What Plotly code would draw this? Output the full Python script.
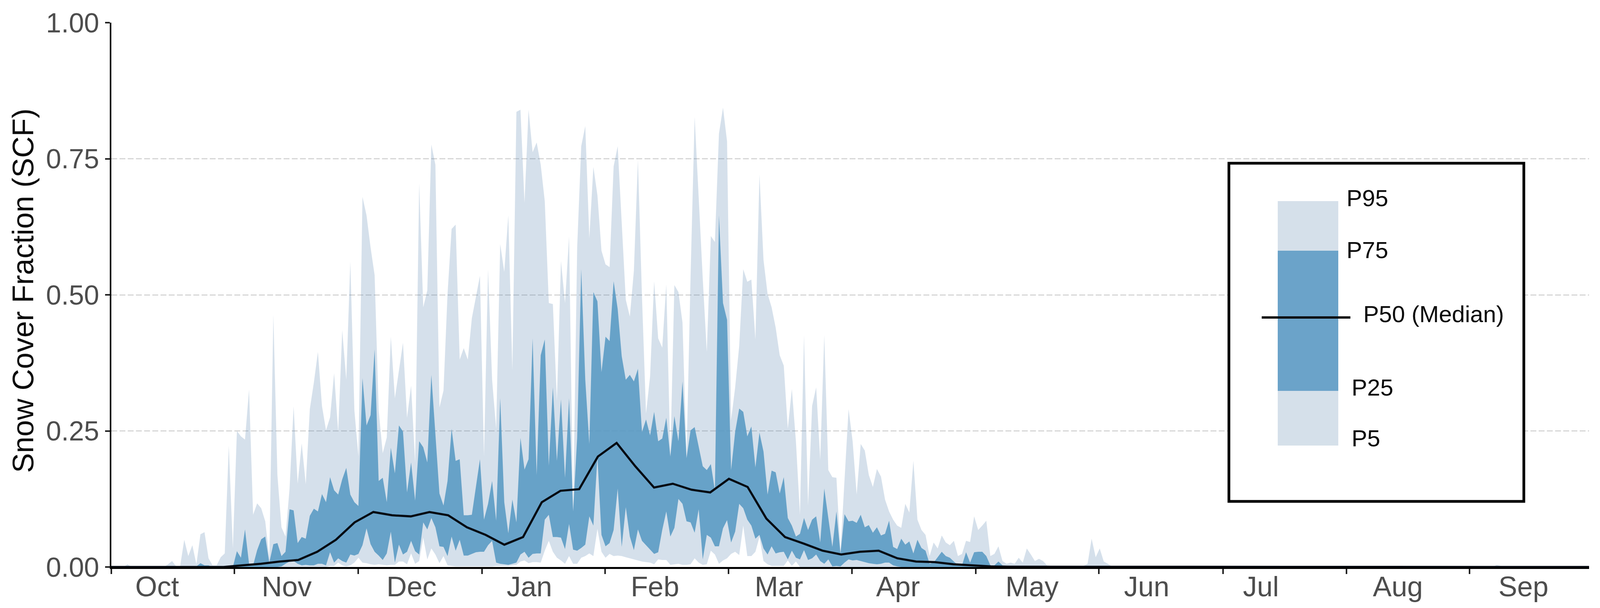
import plotly.graph_objects as go

# ---------- data ----------
month_labels = ["Oct","Nov","Dec","Jan","Feb","Mar","Apr","May","Jun","Jul","Aug","Sep"]
month_start_days = [0,30.4,60.9,91.5,121.9,152.4,182.8,213.4,243.8,274.4,304.9,335.3]
month_label_days = [11.3,43.3,74.1,103.2,134.2,164.8,194.2,227.3,255.6,283.8,317.6,348.6]
y_ticks = [0,0.25,0.5,0.75,1.0]

P95 = [0,0,0,0,.005,0,0,0,0,0,
 0,0,0,0,.005,.011,.001,.002,.05,.02,
 .04,.005,.06,.064,.016,.003,.003,.018,.025,.223,
 .034,.25,.24,.234,.326,.096,.117,.108,.084,.017,
 .464,.169,.073,.056,.144,.295,.153,.227,.152,.29,
 .339,.395,.296,.251,.275,.356,.248,.435,.344,.561,
 .288,.203,.68,.646,.587,.536,.288,.209,.238,.423,
 .31,.361,.412,.274,.333,.192,.705,.477,.508,.776,
 .739,.293,.324,.502,.621,.629,.381,.402,.381,.457,
 .497,.535,.203,.547,.344,.254,.593,.542,.646,.361,
 .836,.84,.669,.84,.762,.78,.739,.672,.485,.483,
 .305,.562,.485,.607,.102,.587,.773,.81,.604,.735,
 .683,.581,.556,.551,.736,.773,.632,.491,.46,.544,
 .748,.496,.282,.35,.525,.42,.403,.519,.203,.518,
 .505,.449,.203,.536,.827,.674,.53,.395,.608,.597,
 .796,.844,.782,.27,.33,.406,.547,.524,.528,.418,
 .721,.564,.502,.477,.44,.389,.37,.254,.327,.231,
 .096,.426,.113,.296,.33,.197,.426,.178,.165,.164,
 .028,.16,.29,.231,.133,.226,.214,.169,.147,.18,
 .166,.124,.102,.087,.076,.072,.116,.1,.195,.087,
 .068,.059,.02,.045,.034,.058,.045,.04,.048,.02,
 .024,.048,.046,.093,.068,.076,.085,.02,.024,.038,
 .011,.006,.008,.006,.017,.008,.034,.023,.011,.015,
 .011,.003,.002,.002,.001,.002,.002,.001,.001,.002,
 .002,.006,.052,.018,.034,.01,.006,.001] + [0]*94 + [.004,.002] + [0]*21

P75 = [0]*20 + [0,.001,.007,.003,.003,0,0,0,0,0,
 0,.029,.017,.069,.006,.003,.031,.051,.056,.008,
 .042,.044,.02,.028,.106,.104,.044,.055,.052,.094,
 .107,.102,.134,.119,.165,.141,.133,.161,.182,.133,
 .119,.112,.347,.26,.279,.4,.158,.164,.119,.219,
 .172,.26,.249,.137,.192,.122,.231,.22,.192,.353,
 .243,.135,.113,.158,.254,.195,.198,.095,.095,.096,
 .147,.198,.087,.116,.158,.085,.31,.119,.062,.124,
 .082,.237,.179,.198,.42,.169,.389,.418,.186,.33,
 .195,.308,.164,.31,.102,.237,.547,.344,.226,.505,
 .488,.358,.423,.415,.525,.474,.387,.344,.353,.341,
 .364,.248,.271,.242,.285,.231,.236,.274,.203,.277,
 .231,.341,.2,.251,.257,.22,.185,.178,.189,.141,
 .646,.485,.454,.178,.248,.291,.285,.24,.258,.183,
 .247,.212,.133,.177,.174,.135,.165,.09,.076,.056,
 .061,.09,.068,.087,.093,.045,.144,.09,.037,.102,
 .025,.097,.084,.085,.081,.096,.073,.077,.063,.073,
 .058,.061,.085,.037,.033,.052,.041,.047,.025,.05,
 .035,.03,.006,.008,.018,.028,.02,.017,.01,.003,
 .003,.027,.008,.027,.028,.028,.02,.003,.003,.01,
 .003,.002,.001,.001,.001,.002,.001,.001,.001,.001,
 .001,.001] + [0]*133

P25 = [0]*40 + [0,0,.001,.006,.01,.011,.006,.003,.004,.003,
 .003,.006,.006,.003,.027,.008,.016,.011,.008,.023,
 .021,.024,.04,.071,.042,.028,.021,.013,.025,.065,
 .008,.041,.023,.028,.048,.029,.023,.082,.069,.09,
 .073,.038,.037,.02,.056,.03,.05,.021,.021,.024,
 .027,.028,.028,.04,.048,.008,.006,.005,.004,.006,
 .008,.023,.028,.017,.024,.025,.025,.087,.096,.055,
 .055,.054,.033,.079,.032,.03,.035,.041,.093,.076,
 .203,.059,.038,.044,.068,.144,.037,.11,.056,.031,
 .069,.048,.04,.032,.024,.027,.068,.102,.056,.072,
 .125,.116,.084,.082,.063,.106,.014,.059,.054,.038,
 .038,.071,.086,.045,.065,.116,.108,.087,.076,.052,
 .059,.034,.023,.038,.025,.027,.028,.014,.03,.017,
 .014,.031,.013,.016,.023,.011,.006,.014,.001,.002,
 .001,.008,.014,.012,.013,.011,.009,.007,.006,.005,
 .006,.008,.008,.003,.001] + [0]*170

P5 = [0]*50 + [0,0,0,0,.002,.002,.008,.003,.001,.003,
 .008,.017,.008,.007,.005,.004,.005,.004,.003,.004,
 .004,.01,.01,.005,.025,.006,.011,.054,.014,.034,
 .023,.007,.02,.003,.002,.001,.001,.001,.001,.001,
 .001,.001,.001,.001,.001,.002,.002,.002,.002,.003,
 .004,.01,.012,.007,.009,.009,.008,.03,.048,.028,
 .017,.012,.006,.02,.006,.006,.017,.02,.025,.02,
 .07,.028,.017,.024,.02,.021,.02,.018,.016,.014,
 .012,.01,.009,.008,.005,.014,.013,.013,.004,.005,
 .006,.004,.004,.005,.016,.008,.004,.005,.03,.023,
 .006,.012,.016,.024,.028,.022,.076,.02,.02,.028,
 .055,.011,.005,.002,.002,.002,.002,.012,.002,.01] + [0]*195

P50 = [0,0,0,0,0,0,0,.003,.006,.01,
 .013,.028,.05,.082,.101,.095,.093,.101,.095,.073,
 .059,.041,.055,.119,.14,.143,.203,.228,.185,.146,
 .153,.142,.137,.162,.147,.089,.055,.043,.03,.023,
 .028,.03,.016,.01,.009,.005,.003,.001,.0005,.0005,
 .0003,.0003,.0002,.0002,.0001,.0001,0,0,0,0,
 0,0,0,0,0,0,0,0,0,0,
 0,0,0,0,0,0,0,0,0,0]

days = list(range(365))
median_days = [round(k * 4.62, 2) for k in range(len(P50))]
legend_labels = ["P95", "P75", "P50 (Median)", "P25", "P5"]
y_title = "Snow Cover Fraction (SCF)"

# ---------- style ----------
LIGHT = "rgba(80,125,170,0.24)"
DARK = "rgba(88,152,195,0.88)"
GREY = "#4d4d4d"
FONT = "Liberation Sans, Arial, sans-serif"
L, R, T, B = 285, 4068, 58, 1452
W, H = 4097, 1557


def px(x):
    return (x - L) / (R - L)


def py(y):
    return (B - y) / (B - T)


no_line = dict(width=0, color="rgba(0,0,0,0)")
fig = go.Figure()
fig.add_trace(go.Scatter(x=days, y=P5, mode="lines", line=no_line, hoverinfo="skip", showlegend=False))
fig.add_trace(go.Scatter(x=days, y=P95, mode="lines", line=no_line, fill="tonexty", fillcolor=LIGHT, name="P5-P95", showlegend=False))
fig.add_trace(go.Scatter(x=days, y=P25, mode="lines", line=no_line, hoverinfo="skip", showlegend=False))
fig.add_trace(go.Scatter(x=days, y=P75, mode="lines", line=no_line, fill="tonexty", fillcolor=DARK, name="P25-P75", showlegend=False))
fig.add_trace(go.Scatter(x=median_days, y=P50, mode="lines", line=dict(color="#050a12", width=5.5), name="P50", showlegend=False))

shapes = [
    dict(type="rect", xref="paper", yref="paper", x0=px(3146), x1=px(3901), y0=py(1284), y1=py(418),
         fillcolor="white", line=dict(color="black", width=7), layer="above"),
    dict(type="rect", xref="paper", yref="paper", x0=px(3271), x1=px(3426), y0=py(1141), y1=py(515),
         fillcolor="#d5e0ea", line=dict(width=0), layer="above"),
    dict(type="rect", xref="paper", yref="paper", x0=px(3271), x1=px(3426), y0=py(1001), y1=py(642),
         fillcolor="#6ba3c9", line=dict(width=0), layer="above"),
    dict(type="line", xref="paper", yref="paper", x0=px(3230), x1=px(3457), y0=py(813), y1=py(813),
         line=dict(color="#0a0a0a", width=6), layer="above"),
]
legend_pos = [(3445, 508), (3445, 640), (3488, 804), (3458, 993), (3458, 1122)]
annotations = [
    dict(text=t, xref="paper", yref="paper", x=px(x), y=py(y), xanchor="left", yanchor="middle",
         showarrow=False, font=dict(family=FONT, size=60, color="#0a0a0a"))
    for t, (x, y) in zip(legend_labels, legend_pos)
]
annotations.append(dict(text=y_title, xref="paper", yref="paper", x=px(58), y=py(745), textangle=-90,
                        xanchor="center", yanchor="middle", showarrow=False,
                        font=dict(family=FONT, size=76, color="#0a0a0a")))

fig.update_layout(
    width=W, height=H, paper_bgcolor="white", plot_bgcolor="white",
    margin=dict(l=L, r=W - R, t=T, b=H - B, autoexpand=False),
    shapes=shapes, annotations=annotations, showlegend=False,
    font=dict(family=FONT),
    xaxis=dict(
        range=[0, 364.8], tickmode="array", tickvals=month_label_days, ticktext=month_labels,
        ticks="", ticklabelstandoff=-16, tickfont=dict(size=72, color=GREY, family=FONT),
        showgrid=False, zeroline=False, showline=True, linecolor="black", linewidth=5,
        minor=dict(tickmode="array", tickvals=month_start_days, ticks="outside", ticklen=13,
                   tickwidth=4, tickcolor="#222222", showgrid=False),
    ),
    yaxis=dict(
        range=[0, 1], tickmode="array", tickvals=y_ticks, ticktext=[f"{v:.2f}" for v in y_ticks],
        ticks="outside", ticklen=12, tickwidth=4, tickcolor="#222222", ticklabelstandoff=1,
        tickfont=dict(size=70, color=GREY, family=FONT),
        showgrid=True, gridcolor="#d6d6d6", gridwidth=3, griddash="15px,6px",
        zeroline=False, showline=True, linecolor="black", linewidth=4,
    ),
)

fig.write_html("out.html", config=dict(displayModeBar=False),
               post_script="document.body.style.margin='0';document.body.style.overflow='hidden';")
